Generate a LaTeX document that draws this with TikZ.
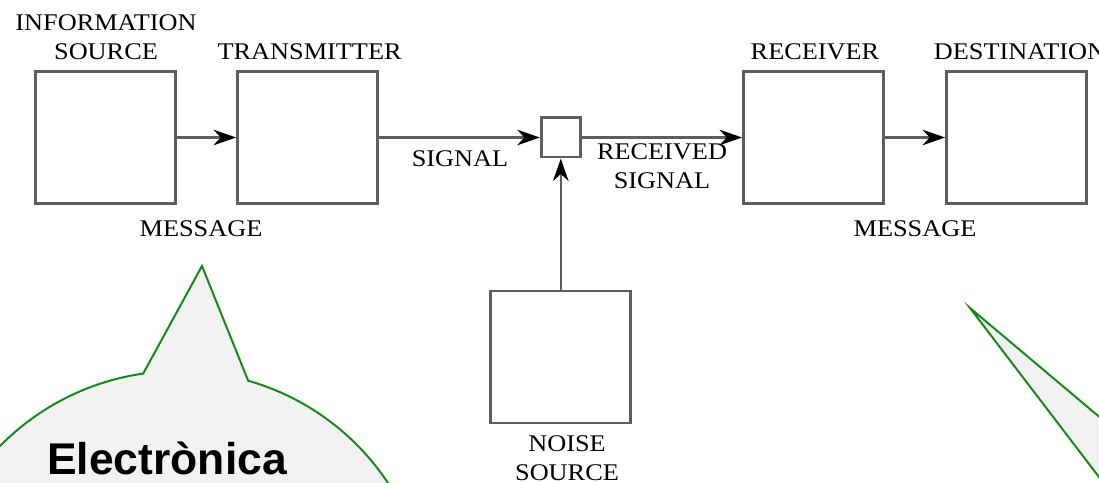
\documentclass[tikz,border=0pt]{standalone}
\usepackage{fontspec}
\setmainfont{Liberation Serif}
\newfontfamily\labelfont{Liberation Serif}[FakeStretch=1.1]
\newfontfamily\bubblefont{Liberation Sans}
\usetikzlibrary{arrows.meta,positioning}
\definecolor{edgegray}{HTML}{5E5E5E}
\definecolor{bubblegreen}{HTML}{138A13}
\definecolor{bubblefill}{HTML}{F2F2F2}
\tikzset{
  block/.style={draw=edgegray, line width=2pt, minimum width=3.5cm, minimum height=3.3cm, inner sep=0pt},
  mixer/.style={draw=edgegray, line width=2pt, minimum size=0.98cm, inner sep=0pt},
  flow/.style={draw=edgegray, line width=1.8pt, -{Stealth[black, length=16pt, width=11pt, inset=5pt]}},
  lbl/.style={font=\labelfont\fontsize{17}{21}\selectfont, inner sep=0pt, anchor=base, align=center},
  bubble/.style={draw=bubblegreen, fill=bubblefill, line width=1.4pt, line join=miter},
}
\begin{document}
\begin{tikzpicture}
        \useasboundingbox (0,0) rectangle (27.475,12.075);
        \clip (0,0) rectangle (27.475,12.075);

        % Blocks of the chain
        \node[block] (src) at (2.6375,8.6375) {};
        \node[block] (tx) at (7.6875,8.6375) {};
        \node[mixer] (mix) at (14.02,8.6375) {};
        \node[block] (rx) at (20.3375,8.6375) {};
        \node[block] (dst) at (25.4125,8.6375) {};
        \node[block] (noise) at (14.02,3.15) {};

        % Connections
        \draw[flow] (src) -- (tx);
        \draw[flow] (tx) -- (mix);
        \draw[flow] (mix) -- (rx);
        \draw[flow] (rx) -- (dst);
        \draw[flow] (noise) -- (mix);

        % Labels (base = last line)
        \node[lbl] (srclbl) at (2.65,10.575) {INFORMATION\\SOURCE};
        \node[lbl] (txlbl) at (7.74,10.575) {TRANSMITTER};
        \node[lbl] (msglbl) at (5.025,6.15) {MESSAGE};
        \node[lbl] (siglbl) at (11.5,7.9) {SIGNAL};
        \node[lbl] (rsiglbl) at (16.55,7.35) {RECEIVED\\SIGNAL};
        \node[lbl] (rxlbl) at (20.375,10.575) {RECEIVER};
        \node[lbl] (dstlbl) at (25.5,10.575) {DESTINATION};
        \node[lbl] (rmsglbl) at (22.875,6.15) {MESSAGE};
        \node[lbl] (noiselbl) at (14.175,0.05) {NOISE\\SOURCE};

        % Left speech bubble
        \coordinate (tipL) at (5.05,5.425);
        \draw[bubble] (4.475,-3.475) ++(74:6.275) arc[start angle=74, end angle=-261.8, radius=6.275] -- (tipL) -- cycle;
        \node[font=\bubblefont\bfseries\fontsize{31.6}{38}\selectfont, anchor=base west, inner sep=0pt] (elec) at (1.175,0.2) {Electrònica};

        % Right speech bubble (pointer only)
        \coordinate (tipR) at (24.25,4.375);
        \draw[bubble] (29,0.375) -- (tipR) -- (29,-1.85);
    \end{tikzpicture}
\end{document}
